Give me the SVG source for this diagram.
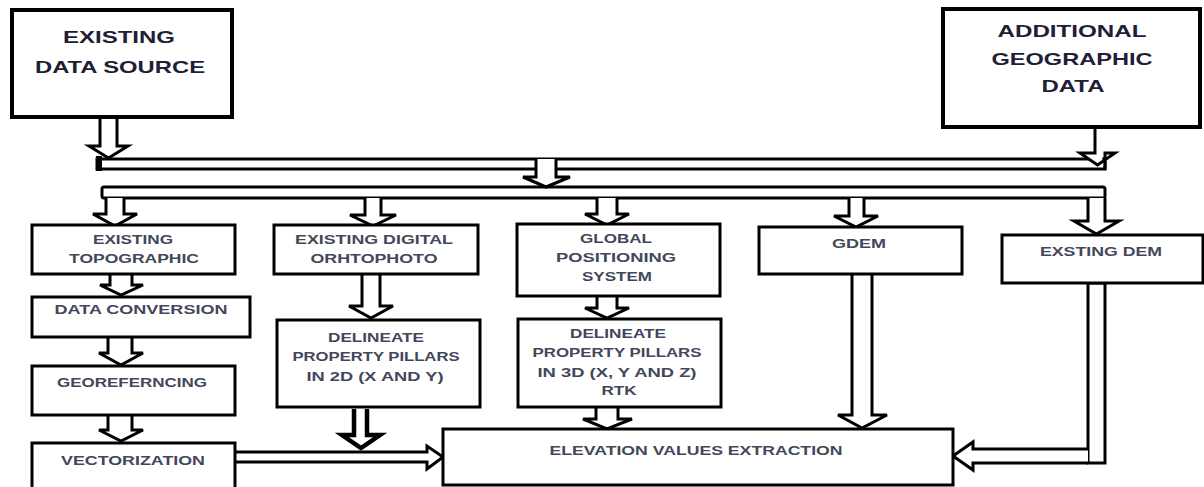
<svg xmlns="http://www.w3.org/2000/svg" width="1204" height="487" viewBox="0 0 1204 487">
<style>
.box{fill:#fff;stroke:#000;stroke-width:3}
.big{fill:#fff;stroke:#000;stroke-width:4}
.arr{fill:#fff;stroke:#000;stroke-width:3;stroke-linejoin:miter}
.heavy{fill:#fff;stroke:#000;stroke-width:4.5;stroke-linejoin:miter}
.t1{font-family:"Liberation Sans",Arial,sans-serif;font-weight:bold;font-size:17px;fill:#1e2035;text-anchor:middle}
.t2{font-family:"Liberation Sans",Arial,sans-serif;font-weight:bold;font-size:12px;fill:#424759;text-anchor:middle}
</style>
<rect width="1204" height="487" fill="#fff"/>
<g id="connectors">
<rect x="97" y="159" width="1008" height="10" class="arr" stroke-width="2.5"/>
<rect x="96" y="156" width="6" height="15" fill="#000"/>
<rect x="102" y="187" width="1003" height="11" rx="2" class="arr" stroke-width="2.5"/>
<path class="arr" d="M100 117V146H89L108.5 158L128 146H117V117"/>
<path class="arr" d="M1095 128V153H1080L1097.5 165L1115 153H1105V170"/>
<path class="arr" d="M536 159V177H523L546 187L570 177H556V159"/>
<path class="arr" d="M106 198V214H93L115 226L137 214H124V198"/>
<path class="arr" d="M365 198V215H350L373 226L396 215H381V198"/>
<path class="arr" d="M597 198V214H585L607 225L629 214H617V198"/>
<path class="arr" d="M849 198V216H834L856 227L878 216H864V198"/>
<path class="arr" d="M1088 198V221H1074L1096.5 234L1119 221H1105V198"/>
<path class="arr" d="M110 274V285H100L121 295L143 285H132V274"/>
<path class="arr" d="M108 337V353H99L121 365L143 353H132V337"/>
<path class="arr" d="M108 415V430H99L121 441L143 430H132V415"/>
<path class="arr" d="M362 274V306H349L371 318L393 306H380V274"/>
<path class="arr" d="M597 296V308H585L607 318L629 308H617V296"/>
<path class="arr" d="M596 407V419H583L607 429L632 419H618V407"/>
<path class="heavy" d="M354 409V435H342L361 448L380 435H367V409"/>
<path class="arr" d="M852 274V415H838L862 428L887 415H872V274"/>
<path class="arr" d="M235 452H427V446L443 457L427 469V462H235"/>
<rect x="1088" y="283" width="17" height="180" class="arr"/>
<path class="arr" d="M1088 449H973V442L953 456L973 470V463H1088"/>
</g>
<g id="existing-data-source">
<rect x="12" y="10" width="220" height="107" class="big"/>
<text x="119" y="43" class="t1" textLength="112" lengthAdjust="spacingAndGlyphs">EXISTING</text>
<text x="120" y="73" class="t1" textLength="170" lengthAdjust="spacingAndGlyphs">DATA SOURCE</text>
</g>
<g id="additional-geographic-data">
<rect x="943" y="9" width="257" height="118" class="big"/>
<text x="1072" y="37" class="t1" textLength="149" lengthAdjust="spacingAndGlyphs">ADDITIONAL</text>
<text x="1072" y="65" class="t1" textLength="161" lengthAdjust="spacingAndGlyphs">GEOGRAPHIC</text>
<text x="1073" y="92" class="t1" textLength="63" lengthAdjust="spacingAndGlyphs">DATA</text>
</g>
<g id="existing-topographic">
<rect x="32" y="225" width="203" height="49" class="box"/>
<text x="133" y="244" class="t2" textLength="80" lengthAdjust="spacingAndGlyphs">EXISTING</text>
<text x="134" y="263" class="t2" textLength="130" lengthAdjust="spacingAndGlyphs">TOPOGRAPHIC</text>
</g>
<g id="data-conversion">
<rect x="32" y="297" width="218" height="40" class="box"/>
<text x="141" y="314" class="t2" textLength="173" lengthAdjust="spacingAndGlyphs">DATA CONVERSION</text>
</g>
<g id="georeferncing">
<rect x="32" y="366" width="203" height="49" class="box"/>
<text x="132" y="387" class="t2" textLength="150" lengthAdjust="spacingAndGlyphs">GEOREFERNCING</text>
</g>
<g id="vectorization">
<rect x="32" y="443" width="203" height="55" class="box"/>
<text x="133" y="465" class="t2" textLength="144" lengthAdjust="spacingAndGlyphs">VECTORIZATION</text>
</g>
<g id="existing-digital-orthophoto">
<rect x="274" y="225" width="204" height="49" class="box"/>
<text x="374" y="244" class="t2" textLength="158" lengthAdjust="spacingAndGlyphs">EXISTING DIGITAL</text>
<text x="374" y="263" class="t2" textLength="127" lengthAdjust="spacingAndGlyphs">ORHTOPHOTO</text>
</g>
<g id="delineate-2d">
<rect x="277" y="320" width="203" height="87" class="box"/>
<text x="376" y="342" class="t2" textLength="96" lengthAdjust="spacingAndGlyphs">DELINEATE</text>
<text x="376" y="361" class="t2" textLength="167" lengthAdjust="spacingAndGlyphs">PROPERTY PILLARS</text>
<text x="375" y="381" class="t2" textLength="137" lengthAdjust="spacingAndGlyphs">IN 2D (X AND Y)</text>
</g>
<g id="gps">
<rect x="517" y="224" width="203" height="72" class="box"/>
<text x="616" y="243" class="t2" textLength="72" lengthAdjust="spacingAndGlyphs">GLOBAL</text>
<text x="616" y="262" class="t2" textLength="120" lengthAdjust="spacingAndGlyphs">POSITIONING</text>
<text x="617" y="281" class="t2" textLength="70" lengthAdjust="spacingAndGlyphs">SYSTEM</text>
</g>
<g id="delineate-3d">
<rect x="518" y="319" width="203" height="88" class="box"/>
<text x="618" y="338" class="t2" textLength="96" lengthAdjust="spacingAndGlyphs">DELINEATE</text>
<text x="617" y="357" class="t2" textLength="169" lengthAdjust="spacingAndGlyphs">PROPERTY PILLARS</text>
<text x="617" y="377" class="t2" textLength="159" lengthAdjust="spacingAndGlyphs">IN 3D (X, Y AND Z)</text>
<text x="619" y="395" class="t2" textLength="35" lengthAdjust="spacingAndGlyphs">RTK</text>
</g>
<g id="gdem">
<rect x="759" y="227" width="203" height="47" class="box"/>
<text x="859" y="248" class="t2" textLength="54" lengthAdjust="spacingAndGlyphs">GDEM</text>
</g>
<g id="existing-dem">
<rect x="1002" y="235" width="201" height="48" class="box"/>
<text x="1101" y="256" class="t2" textLength="122" lengthAdjust="spacingAndGlyphs">EXSTING DEM</text>
</g>
<g id="elevation-values-extraction">
<rect x="443" y="429" width="510" height="56" class="box"/>
<text x="696" y="455" class="t2" textLength="293" lengthAdjust="spacingAndGlyphs">ELEVATION VALUES EXTRACTION</text>
</g>
</svg>
